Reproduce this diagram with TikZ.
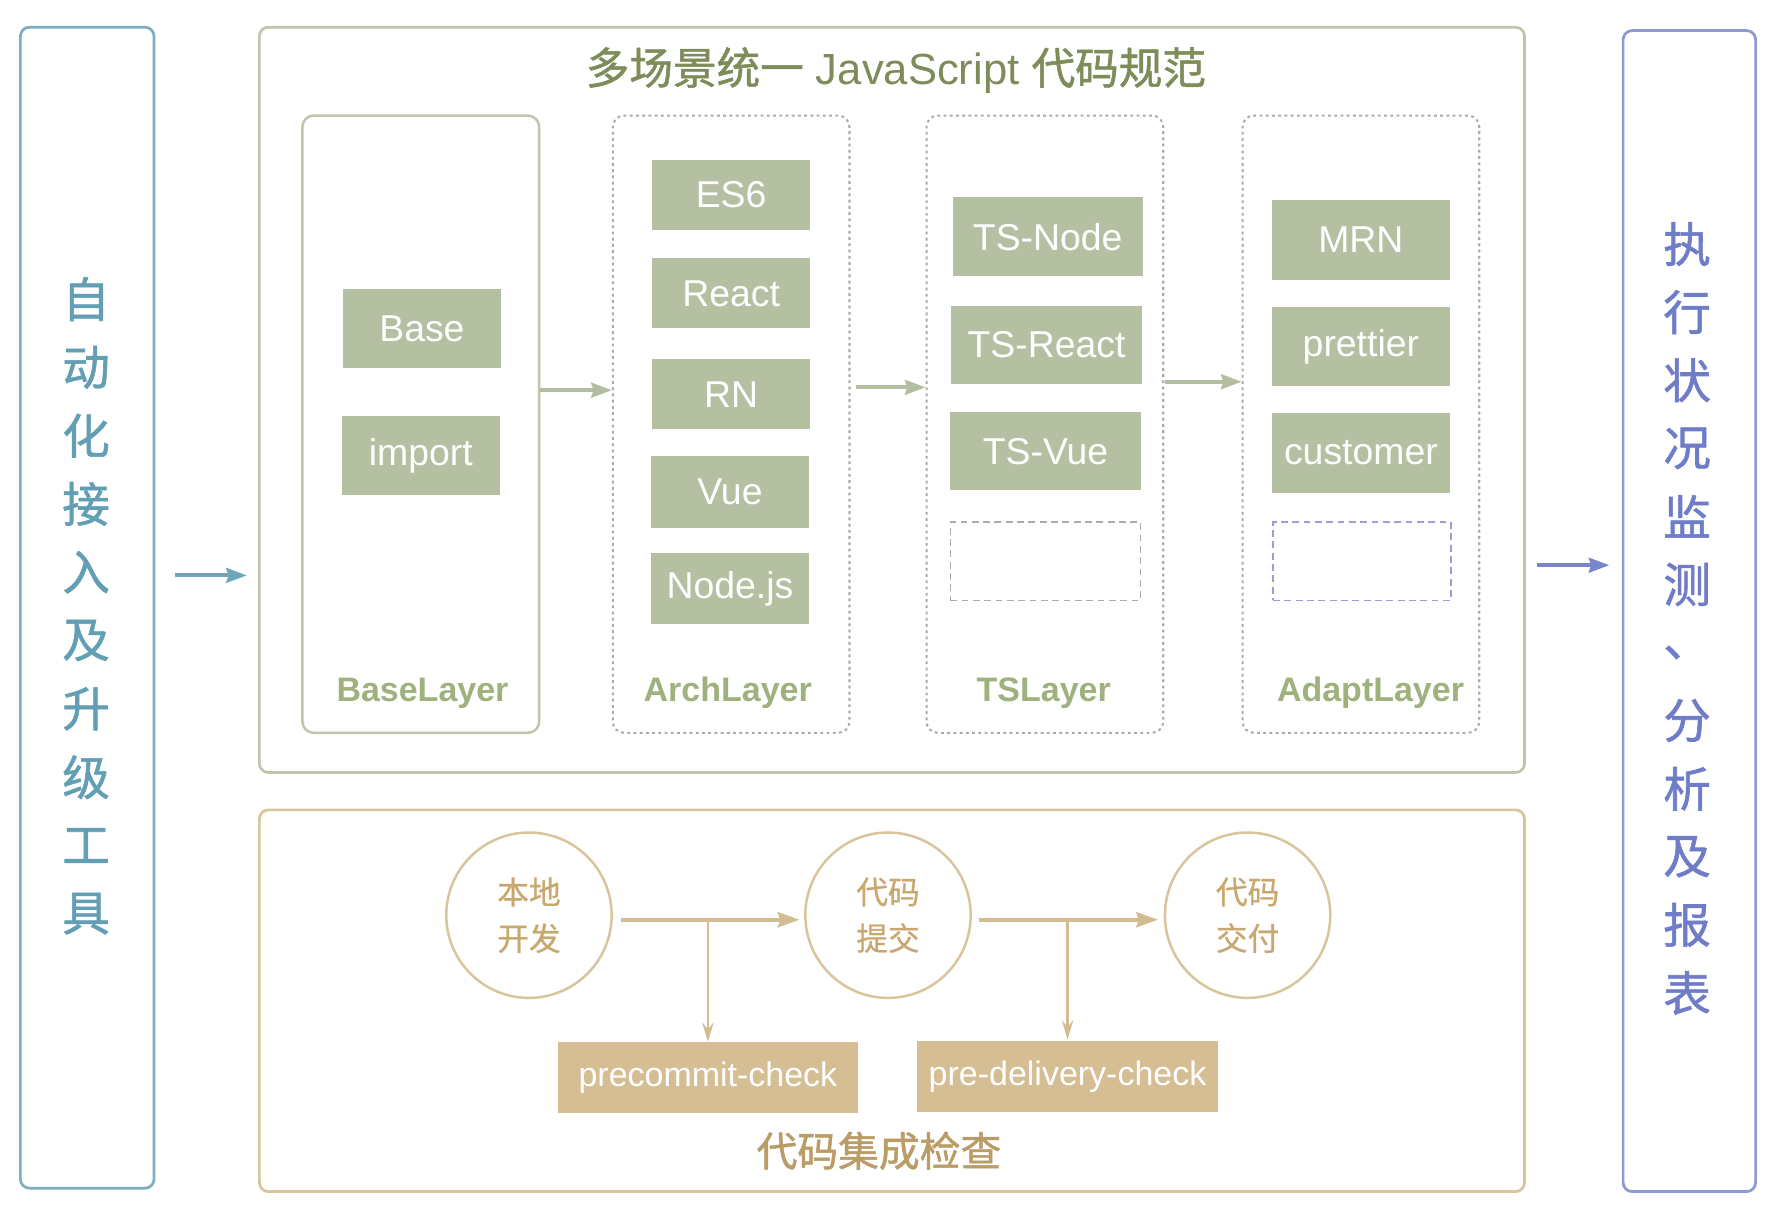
\documentclass[tikz,border=0pt]{standalone}
\usepackage{fontspec}
\setmainfont{Liberation Sans}
\newfontfamily\cjk{Noto Sans CJK SC}[FakeBold=1.2]
\newfontfamily\cjkl{Noto Sans CJK SC}[FakeBold=0.7]
\usetikzlibrary{arrows.meta,calc}
\definecolor{gfill}{HTML}{B5C0A2}
\definecolor{gtitle}{HTML}{7D8C58}
\definecolor{glabel}{HTML}{9FB17C}
\definecolor{gline}{HTML}{BEC6AE}
\definecolor{garr}{HTML}{B3BD9F}
\definecolor{dotgray}{HTML}{ABABAB}
\definecolor{dashpur}{HTML}{9C9CD6}
\definecolor{tfill}{HTML}{D5BE93}
\definecolor{tline}{HTML}{D9C59C}
\definecolor{ttext}{HTML}{C8A86F}
\definecolor{ttitle}{HTML}{BA9C66}
\definecolor{tarr}{HTML}{D3BC91}
\definecolor{teal}{HTML}{7DAFC0}
\definecolor{tealtext}{HTML}{629FB4}
\definecolor{tealarr}{HTML}{6FA5B8}
\definecolor{blu}{HTML}{8D98D4}
\definecolor{blutext}{HTML}{6F7DC8}
\definecolor{bluarr}{HTML}{7986CC}
\tikzset{
  gbox/.style={fill=gfill, text=white, minimum width=139pt, minimum height=62pt, inner sep=0pt, font=\fontsize{33pt}{36pt}\selectfont},
  tsbox/.style={gbox, minimum width=168pt, minimum height=70pt},
  adbox/.style={gbox, minimum width=157pt, minimum height=70pt},
  layerbox/.style={draw=gline, line width=2.2pt, rounded corners=10pt, minimum width=209pt, minimum height=545pt, inner sep=0pt},
  dlayerbox/.style={layerbox, draw=dotgray, line width=1.8pt, dash pattern=on 2.5pt off 3pt},
  emptybox/.style={draw=dotgray, line width=1.3pt, dash pattern=on 6pt off 4pt, minimum width=168pt, minimum height=69pt, inner sep=0pt},
  llabel/.style={text=glabel, font=\fontsize{30pt}{32pt}\selectfont\bfseries},
  garrow/.style={draw=garr, line width=3.5pt, -{Stealth[length=18pt,width=13pt,inset=2pt]}},
  harrow/.style={draw=tarr, line width=3.8pt, -{Stealth[length=19pt,width=13pt,inset=2pt]}},
  varrow/.style={draw=tarr, line width=2.4pt, -{Stealth[length=17pt,width=10pt,inset=6pt]}},
  circ/.style={circle, draw=tline, line width=2.2pt, minimum size=146pt, inner sep=0pt, text=ttext, align=center, font=\cjkl\fontsize{28pt}{41pt}\selectfont},
  tbox/.style={fill=tfill, text=white, minimum width=265pt, minimum height=63pt, inner sep=0pt, font=\fontsize{30pt}{32pt}\selectfont},
  lchar/.style={text=tealtext, font=\cjk\fontsize{42pt}{44pt}\selectfont, inner sep=0pt},
  rchar/.style={text=blutext, font=\cjk\fontsize{42pt}{44pt}\selectfont, inner sep=0pt},
}
\begin{document}
\begin{tikzpicture}[x=1pt,y=-1pt]
\useasboundingbox[fill=white] (0,0) rectangle (1568,1072);

% side boxes
\node[draw=teal, line width=2.4pt, rounded corners=8pt, minimum width=118pt, minimum height=1025pt, inner sep=0pt] (lbox) at (77,536.5) {};
\node[draw=blu, line width=2.4pt, rounded corners=8pt, minimum width=117pt, minimum height=1025pt, inner sep=0pt] (rbox) at (1491.5,539.5) {};
\foreach \c [count=\i] in {自,动,化,接,入,及,升,级,工,具}
  \node[lchar] (l\i) at (76,{264+60.3*(\i-1)}) {\c};
\foreach \c [count=\i] in {执,行,状,况,监,测,、,分,析,及,报,表}
  \node[rchar] (r\i) at (1489.5,{215.5+60.1*(\i-1)}) {\c};

% main boxes
\node[draw=gline, line width=2.4pt, rounded corners=8pt, minimum width=1117pt, minimum height=658pt, inner sep=0pt] (top) at (787.5,353) {};
\node[draw=tline, line width=2.4pt, rounded corners=8pt, minimum width=1117pt, minimum height=337pt, inner sep=0pt] (bot) at (787.5,883.5) {};

\node[text=gtitle, font=\fontsize{38.5pt}{40pt}\selectfont] (ttl) at (791,62) {{\cjk 多场景统一} JavaScript {\cjk 代码规范}};

% layers
\node[layerbox] (blayer) at (371.5,374.5) {};
\node[dlayerbox] (alayer) at (645.5,374.5) {};
\node[dlayerbox] (tlayer) at (922.5,374.5) {};
\node[dlayerbox] (dlayer) at (1201.5,374.5) {};

\node[gbox, minimum height=70pt] (base) at (372.5,290) {Base};
\node[gbox, minimum height=70pt] (imp) at (371.5,402) {import};

\node[gbox] (es6) at (645.5,172) {ES6};
\node[gbox] (react) at (645.5,259) {React};
\node[gbox] (rn) at (645.5,348) {RN};
\node[gbox, minimum height=63pt] (vue) at (644.5,434.5) {Vue};
\node[gbox, minimum height=63pt] (nodejs) at (644.5,519.5) {Node.js};

\node[tsbox] (tsnode) at (925,209) {TS-Node};
\node[tsbox, minimum height=69pt] (tsreact) at (924,304.5) {TS-React};
\node[tsbox, minimum height=69pt] (tsvue) at (923,398.5) {TS-Vue};
\node[emptybox] (tsempty) at (923,495.5) {};

\node[adbox] (mrn) at (1201.5,212) {MRN};
\node[adbox] (prettier) at (1201.5,306) {prettier};
\node[adbox] (customer) at (1201.5,400) {customer};
\node[emptybox, draw=dashpur, minimum width=157pt] (adempty) at (1202.5,495.5) {};

\node[llabel] (bl) at (373,612) {BaseLayer};
\node[llabel] (al) at (642.5,612) {ArchLayer};
\node[llabel] (tl) at (921.5,612) {TSLayer};
\node[llabel] (dl) at (1210,612) {AdaptLayer};

\draw[garrow] ([yshift=30pt]blayer.east) -- ([yshift=30pt]alayer.west);
\draw[garrow] ([xshift=5pt,yshift=32.5pt]alayer.east) -- ([yshift=32.5pt]tlayer.west);
\draw[garrow] ([xshift=1pt,yshift=37.5pt]tlayer.east) -- ([yshift=37.5pt]dlayer.west);

% side arrows
\coordinate (la) at ([xshift=17pt,yshift=28.5pt]lbox.east);
\draw[draw=tealarr, line width=3.5pt, -{Stealth[length=18pt,width=13pt,inset=2pt]}] (la) -- ($(la -| top.west)+(-10,0)$);
\coordinate (ra) at ([xshift=-11pt,yshift=40.5pt]rbox.west);
\draw[draw=bluarr, line width=3.5pt, -{Stealth[length=18pt,width=13pt,inset=2pt]}] ($(ra -| top.east)+(10,0)$) -- (ra);

% bottom
\node[circ] (c1) at (467,808) {本地\\开发};
\node[circ] (c2) at (784,808) {代码\\提交};
\node[circ] (c3) at (1101.5,808) {代码\\交付};
\node[tbox] (pc) at (625,951.5) {precommit-check};
\node[tbox] (pd) at (942.5,950.5) {pre-delivery-check};
\node[text=ttitle, font=\cjk\fontsize{36pt}{38pt}\selectfont] (btitle) at (776,1016) {代码集成检查};

\coordinate (h1) at ([xshift=7pt,yshift=-4pt]c1.east);
\coordinate (h2) at ([xshift=6pt,yshift=-4pt]c2.east);
\draw[harrow] (h1) -- ([xshift=-4pt,yshift=-4pt]c2.west);
\draw[harrow] (h2) -- ([xshift=-5pt,yshift=-4pt]c3.west);
\draw[varrow] (pc.north |- h1) -- (pc.north);
\draw[varrow] (pd.north |- h2) -- ([yshift=1pt]pd.north);
\end{tikzpicture}
\end{document}
